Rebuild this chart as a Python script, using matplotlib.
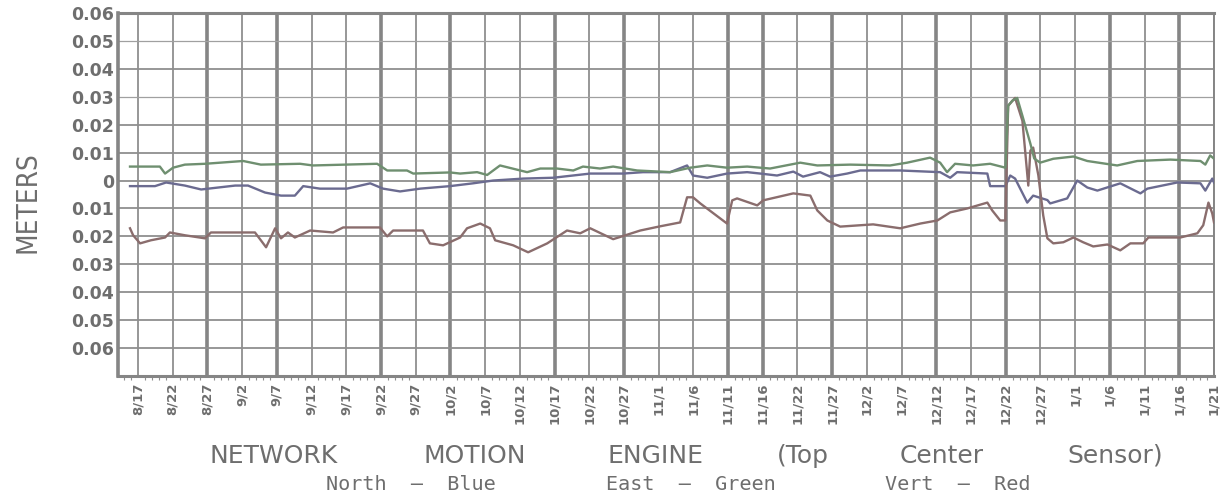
import matplotlib
matplotlib.use("Agg")
import matplotlib.pyplot as plt
from matplotlib import font_manager
import numpy as np

# ---------------- data ----------------
date_labels = ["8/17", "8/22", "8/27", "9/2", "9/7", "9/12", "9/17", "9/22", "9/27",
               "10/2", "10/7", "10/12", "10/17", "10/22", "10/27", "11/1", "11/6",
               "11/11", "11/16", "11/22", "11/27", "12/2", "12/7", "12/12", "12/17",
               "12/22", "12/27", "1/1", "1/6", "1/11", "1/16", "1/21"]

y_ticks = [0.06, 0.05, 0.04, 0.03, 0.02, 0.01, 0.0, -0.01, -0.02, -0.03, -0.04, -0.05, -0.06]
y_tick_labels = ["0.06", "0.05", "0.04", "0.03", "0.02", "0.01", "0",
                 "0.01", "0.02", "0.03", "0.04", "0.05", "0.06"]

# positions along the date axis (in date-tick units, 0 = 8/17)
east_pos = [-0.23, 0.63, 0.78, 1.01, 1.35, 1.93, 3.03, 3.54, 4.67, 5.04, 6.89, 7.18, 7.75,
            7.93, 8.99, 9.28, 9.77, 10.06, 10.43, 11.21, 11.59, 12.07, 12.54, 12.82, 13.31,
            13.69, 14.38, 15.33, 15.91, 16.40, 16.97, 17.55, 18.21, 19.08, 19.57, 20.52,
            21.67, 22.16, 22.82, 23.11, 23.31, 23.54, 24.06, 24.55, 24.99, 25.07, 25.19,
            25.33, 25.48, 25.71, 25.82, 25.99, 26.37, 26.95, 27.35, 28.21, 28.79, 29.74,
            30.61, 30.75, 30.89, 31.0]
east_m = [0.0050, 0.0050, 0.0025, 0.0046, 0.0057, 0.0060, 0.0070, 0.0057, 0.0060, 0.0054,
          0.0060, 0.0036, 0.0036, 0.0025, 0.0029, 0.0025, 0.0030, 0.0020, 0.0054, 0.0030,
          0.0043, 0.0043, 0.0036, 0.0050, 0.0043, 0.0050, 0.0036, 0.0030, 0.0046, 0.0054,
          0.0046, 0.0050, 0.0043, 0.0064, 0.0054, 0.0057, 0.0054, 0.0064, 0.0082, 0.0064,
          0.0030, 0.0060, 0.0054, 0.0060, 0.0046, 0.0268, 0.0286, 0.0296, 0.0232, 0.0132,
          0.0079, 0.0064, 0.0078, 0.0086, 0.0070, 0.0054, 0.0070, 0.0075, 0.0070, 0.0057,
          0.0090, 0.0078]

north_pos = [-0.23, 0.49, 0.81, 1.35, 1.82, 2.31, 2.80, 3.17, 3.66, 4.12, 4.52, 4.76, 5.24,
             6.02, 6.69, 7.06, 7.55, 8.13, 8.99, 9.65, 10.23, 11.10, 11.96, 13.03, 13.98,
             14.55, 15.33, 15.82, 15.99, 16.40, 16.97, 17.55, 17.93, 18.41, 18.88, 19.16,
             19.65, 19.94, 20.43, 20.81, 21.96, 23.11, 23.40, 23.60, 24.47, 24.55, 24.99,
             25.13, 25.27, 25.62, 25.79, 26.20, 26.28, 26.77, 27.06, 27.35, 27.64, 28.30,
             28.88, 29.08, 29.94, 30.61, 30.75, 30.95, 31.0]
north_m = [-0.0020, -0.0020, -0.0007, -0.0018, -0.0032, -0.0025, -0.0018, -0.0018, -0.0043,
           -0.0054, -0.0054, -0.0020, -0.0029, -0.0029, -0.0010, -0.0029, -0.0039, -0.0029,
           -0.0020, -0.0010, 0.0000, 0.0007, 0.0010, 0.0025, 0.0025, 0.0030, 0.0030, 0.0054,
           0.0018, 0.0010, 0.0025, 0.0030, 0.0025, 0.0018, 0.0032, 0.0014, 0.0030, 0.0014,
           0.0025, 0.0036, 0.0036, 0.0030, 0.0010, 0.0030, 0.0025, -0.0020, -0.0020, 0.0018,
           0.0007, -0.0079, -0.0054, -0.0070, -0.0082, -0.0064, 0.0000, -0.0025, -0.0036,
           -0.0010, -0.0046, -0.0029, -0.0007, -0.0010, -0.0036, 0.0007, -0.0007]

vert_pos = [-0.23, -0.14, 0.06, 0.37, 0.78, 0.92, 1.35, 1.93, 2.10, 3.37, 3.54, 3.69, 3.95,
            4.12, 4.32, 4.52, 4.96, 5.62, 5.91, 6.97, 7.18, 7.35, 8.21, 8.41, 8.79, 9.28,
            9.48, 9.86, 10.14, 10.29, 10.81, 11.24, 11.79, 12.36, 12.74, 13.03, 13.69, 14.47,
            15.04, 15.62, 15.82, 15.99, 16.20, 16.97, 17.12, 17.26, 17.84, 18.01, 18.88,
            19.37, 19.57, 19.86, 20.23, 21.18, 21.96, 22.54, 23.03, 23.40, 23.89, 24.47,
            24.61, 24.84, 24.99, 25.07, 25.27, 25.48, 25.65, 25.71, 25.79, 25.94, 26.08,
            26.20, 26.37, 26.66, 26.95, 27.23, 27.52, 27.93, 28.30, 28.59, 28.96, 29.11,
            30.03, 30.52, 30.69, 30.84, 30.95, 31.0]
vert_m = [-0.0171, -0.0196, -0.0225, -0.0214, -0.0204, -0.0186, -0.0196, -0.0207, -0.0186,
          -0.0186, -0.0214, -0.0239, -0.0171, -0.0207, -0.0186, -0.0204, -0.0179, -0.0186,
          -0.0168, -0.0168, -0.0200, -0.0179, -0.0179, -0.0225, -0.0232, -0.0204, -0.0171,
          -0.0154, -0.0171, -0.0214, -0.0232, -0.0257, -0.0225, -0.0179, -0.0189, -0.0171,
          -0.0210, -0.0179, -0.0164, -0.0150, -0.0060, -0.0060, -0.0082, -0.0154, -0.0071,
          -0.0064, -0.0089, -0.0071, -0.0046, -0.0054, -0.0107, -0.0143, -0.0165, -0.0157,
          -0.0171, -0.0154, -0.0143, -0.0114, -0.0100, -0.0079, -0.0107, -0.0143, -0.0143,
          0.0268, 0.0296, 0.0214, -0.0018, 0.0107, 0.0118, 0.0018, -0.0125, -0.0207,
          -0.0225, -0.0221, -0.0204, -0.0221, -0.0236, -0.0229, -0.0250, -0.0225, -0.0225,
          -0.0204, -0.0204, -0.0189, -0.0160, -0.0079, -0.0118, -0.0150]

title_words = ["NETWORK", "MOTION", "ENGINE", "(Top", "Center", "Sensor)"]
legend_groups = ["North  \u2014  Blue", "East  \u2014  Green", "Vert  \u2014  Red"]

# ---------------- styling ----------------
W, H = 1229, 497
txt_c = "#6e6e6e"
grid_c = "#8f8f8f"
thick_c = "#858585"
c_north = "#6b6b90"
c_east = "#6f8f70"
c_vert = "#8a6d6d"

thick_idx = [2, 4, 7, 9, 12, 14, 17, 18, 20, 23, 25, 28, 30]
light_rows = [0.05, 0.03]

fig = plt.figure(figsize=(W / 100, H / 100), dpi=100)
ax = fig.add_axes([118 / W, 1 - 376 / H, (1214 - 118) / W, (376 - 13) / H])

ax.set_xlim(-0.576, 31.0)
ax.set_ylim(-0.07, 0.06)

# grid
for i in range(len(date_labels)):
    if i in thick_idx:
        ax.axvline(i, color=thick_c, lw=2.6, zorder=1)
    else:
        ax.axvline(i, color=grid_c, lw=1.3, zorder=1)
for v in y_ticks:
    if any(abs(v - r) < 1e-9 for r in light_rows):
        ax.axhline(v, color="#a0a0a0", lw=0.9, zorder=1)
    else:
        ax.axhline(v, color=grid_c, lw=1.3, zorder=1)

# series
ax.plot(north_pos, north_m, color=c_north, lw=1.7, zorder=3)
ax.plot(vert_pos, vert_m, color=c_vert, lw=1.7, zorder=4)
ax.plot(east_pos, east_m, color=c_east, lw=1.7, zorder=5)

# axes & ticks
ax.set_xticks(range(len(date_labels)))
ax.set_xticklabels(date_labels, rotation=90, fontsize=9.5, fontweight="bold", color=txt_c)
ax.set_xticks(np.arange(-0.4, 31.01, 0.2), minor=True)
ax.tick_params(axis="x", which="major", length=0, pad=5)
ax.tick_params(axis="x", which="minor", length=3, width=0.8, color=grid_c)
ax.set_yticks(y_ticks)
ax.set_yticklabels(y_tick_labels, fontsize=12.5, fontweight="bold", color=txt_c)
ax.tick_params(axis="y", length=0, pad=3)

for side, lw in [("left", 2.6), ("bottom", 2.2), ("top", 2.2), ("right", 1.4)]:
    ax.spines[side].set_color(thick_c)
    ax.spines[side].set_linewidth(lw)

# y label (prefer a condensed face if one is installed)
names = {f.name for f in font_manager.fontManager.ttflist}
cond = [f for f in font_manager.fontManager.ttflist
        if f.name == "DejaVu Sans" and "ondensed" in str(f.stretch) + f.fname]
if "Liberation Sans Narrow" in names:
    ylab_kw = dict(family=["Liberation Sans Narrow", "DejaVu Sans"], fontsize=21)
elif cond:
    ylab_kw = dict(family="DejaVu Sans", fontstretch="condensed", fontsize=20)
else:
    ylab_kw = dict(family="DejaVu Sans", fontsize=18)
fig.text(28 / W, 1 - 202 / H, "METERS", rotation=90, ha="center", va="center",
         color=txt_c, **ylab_kw)

# title words
title_x = [274, 475, 656, 803, 942, 1115]
for word, xc in zip(title_words, title_x):
    fig.text(xc / W, 1 - 456 / H, word, ha="center", va="center", fontsize=18,
             color=txt_c, family="DejaVu Sans")

legend_x = [411, 691, 958]
for grp, xc in zip(legend_groups, legend_x):
    fig.text(xc / W, 1 - 485 / H, grp, ha="center", va="center", fontsize=14.5,
             color=txt_c, family="DejaVu Sans Mono")

fig.savefig("out.png", dpi=100, facecolor="white")
